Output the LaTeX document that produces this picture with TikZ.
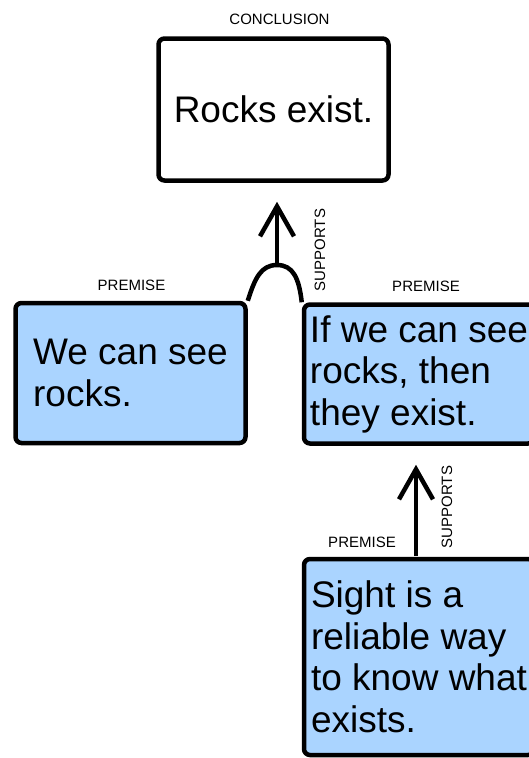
\documentclass[tikz,border=0pt]{standalone}
\usepackage{fontspec}
\setmainfont{Liberation Sans}
\usetikzlibrary{arrows.meta}
\definecolor{boxblue}{RGB}{170,212,255}
\begin{document}
\begin{tikzpicture}[x=1pt,y=-1pt,
  box/.style={draw=black, line width=4.5pt, rounded corners=6pt, align=left,
    font=\fontsize{37}{41.5}\selectfont, inner sep=0pt},
  prem/.style={box, fill=boxblue},
  lbl/.style={font=\fontsize{15}{16}\selectfont, inner sep=0pt},
  arr/.style={line width=4.5pt, -{Straight Barb[length=30pt,width=34pt]}},
  link/.style={line width=4.5pt, line join=round}]
\useasboundingbox (0,0) rectangle (529,758);
\clip (0,0) rectangle (529,758);
\node[box, fill=white, minimum width=230pt, minimum height=142pt] (concl) at (273.5,109.5) {Rocks exist.};
\node[prem, minimum width=230pt, minimum height=140pt] (left) at (130.5,373) {We can see\\rocks.};
\node[prem, minimum width=230pt, minimum height=139pt] (right) at (419,374) {If we can see\\rocks, then\\they exist.};
\node[prem, minimum width=230pt, minimum height=196pt] (bot) at (419,657) {Sight is a\\reliable way\\to know what\\exists.};
\node[lbl] (lc) at (279.5,19) {CONCLUSION};
\node[lbl] (ll) at (131.5,285.5) {PREMISE};
\node[lbl] (lr) at (426,286) {PREMISE};
\node[lbl] (lb) at (362,542) {PREMISE};
\node[lbl, rotate=90] (s1) at (320,250) {SUPPORTS};
\node[lbl, rotate=90] (s2) at (447,507) {SUPPORTS};
\coordinate (peak) at (277,265);
\coordinate (j2) at (416,556);
\draw[link] (left.north east) .. controls (255,278) and (261,265) .. (peak)
  .. controls (293,265) and (299,278) .. (right.north west);
\draw[arr, shorten >=19pt] (peak) -- (peak |- concl.south);
\draw[arr, shorten >=19pt] (j2) -- (j2 |- right.south);
\end{tikzpicture}
\end{document}
